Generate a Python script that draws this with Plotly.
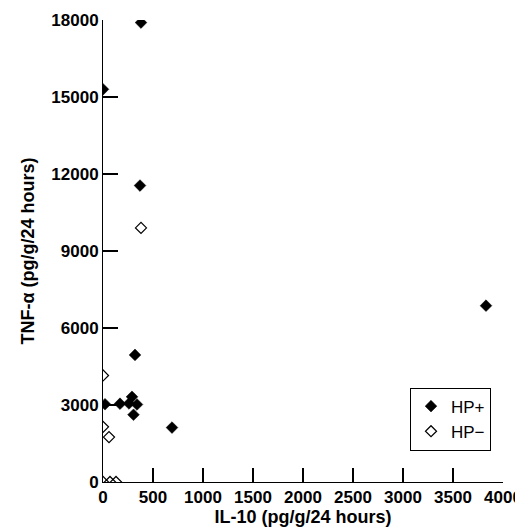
import plotly.graph_objects as go

# HP+ (filled diamonds)
hp_pos_il10 = [0, 380, 370, 320, 20, 170, 290, 260, 340, 305, 690, 3830]
hp_pos_tnf = [15300, 17900, 11550, 4950, 3030, 3050, 3320, 3060, 3020, 2620, 2120, 6870]

# HP- (open diamonds)
hp_neg_il10 = [0, 380, 0, 60, 0, 70, 130]
hp_neg_tnf = [4150, 9900, 2150, 1750, 0, 0, 0]

x_ticks = [0, 500, 1000, 1500, 2000, 2500, 3000, 3500, 4000]
x_labels = ["0", "500", "1000", "1500", "2000", "2500", "3000", "3500", "4000"]
y_ticks = [0, 3000, 6000, 9000, 12000, 15000, 18000]
y_labels = ["0", "3000", "6000", "9000", "12000", "15000", "18000"]

font_family = "Liberation Sans, Arial, sans-serif"

fig = go.Figure()
fig.add_trace(go.Scatter(
    x=hp_pos_il10, y=hp_pos_tnf, mode="markers", name="HP+",
    marker=dict(symbol="diamond", size=9, color="black", line=dict(color="black", width=0.5)),
))
fig.add_trace(go.Scatter(
    x=hp_neg_il10, y=hp_neg_tnf, mode="markers", name="HP\u2212",
    marker=dict(symbol="diamond-open", size=8.5, color="black", line=dict(color="black", width=1.2)),
))

# page body has an 8px margin, so the figure is made 8px smaller and margins shifted
fig.update_layout(
    width=515, height=523,
    margin=dict(l=95, r=20, t=12, b=49, autoexpand=False),
    paper_bgcolor="white", plot_bgcolor="white",
    font=dict(family=font_family, size=17, color="black"),
    showlegend=True,
    legend=dict(
        x=0.97, y=0.068, xanchor="right", yanchor="bottom",
        bordercolor="black", borderwidth=1, bgcolor="white",
        font=dict(size=17, family=font_family),
        itemwidth=30, tracegroupgap=0,
    ),
)
fig.update_xaxes(
    range=[0, 4000], tickmode="array", tickvals=x_ticks, ticktext=x_labels,
    ticks="inside", ticklen=14, tickwidth=1.5, tickcolor="black",
    showline=True, linecolor="black", linewidth=1,
    showgrid=False, zeroline=False,
    tickfont=dict(size=17, weight="bold"),
    title=dict(text="IL-10 (pg/g/24 hours)", font=dict(size=18, weight="bold"), standoff=2),
)
fig.update_yaxes(
    range=[0, 18000], tickmode="array", tickvals=y_ticks, ticktext=y_labels,
    ticks="inside", ticklen=15, tickwidth=1.5, tickcolor="black",
    showline=True, linecolor="black", linewidth=1,
    showgrid=False, zeroline=False,
    tickfont=dict(size=17, weight="bold"),
    title=dict(text="TNF-\u03b1 (pg/g/24 hours)", font=dict(size=18, weight="bold"), standoff=12),
)

fig.write_html("out.html")
